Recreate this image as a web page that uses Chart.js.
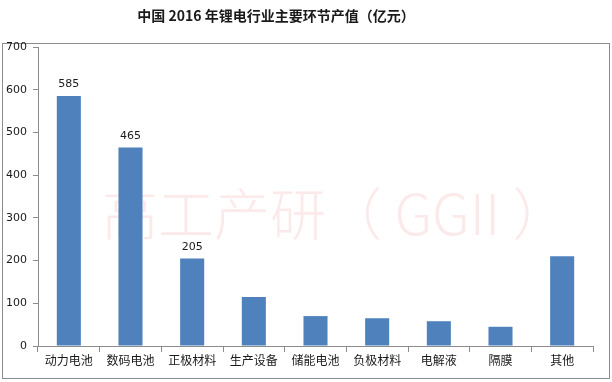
<!DOCTYPE html>
<html><head><meta charset="utf-8">
<script src="https://cdn.jsdelivr.net/npm/chart.js@4"></script>
<style>html,body{margin:0;padding:0;background:#fff}#wrap{width:612px;height:382px}</style>
</head><body><div id="wrap"><canvas id="c" width="612" height="382"></canvas></div>
<script>
const categories = ['动力电池','数码电池','正极材料','生产设备','储能电池','负极材料','电解液','隔膜','其他'];
const values = [585, 465, 205, 115, 70, 65, 58, 45, 210];
const shownLabels = [585, 465, 205, null, null, null, null, null, null];
const yTicks = [0, 100, 200, 300, 400, 500, 600, 700];
const titleText = '中国 2016 年锂电行业主要环节产值（亿元）';
const watermark = '高工产研（ GGII ）';

const deco = {
  id: 'deco',
  beforeDraw(chart) {
    const ctx = chart.ctx;
    ctx.save();
    ctx.fillStyle = '#fff';
    ctx.fillRect(0, 0, chart.width, chart.height);
    ctx.strokeStyle = '#8c8c8c';
    ctx.lineWidth = 1;
    ctx.strokeRect(2.5, 43.5, 607, 335);
    ctx.fillStyle = '#1a1a1a';
    ctx.font = 'bold 14px "Noto Sans CJK SC"';
    ctx.textAlign = 'center';
    ctx.textBaseline = 'middle';
    ctx.fillText(titleText, 276, 16);
    ctx.restore();
  },
  beforeDatasetsDraw(chart) {
    const ctx = chart.ctx;
    ctx.save();
    ctx.fillStyle = 'rgba(235,120,120,0.16)';
    ctx.font = '300 56px "Noto Sans CJK SC"';
    ctx.textAlign = 'left';
    ctx.textBaseline = 'middle';
    ctx.fillText(watermark, 102, 214);
    ctx.restore();
  },
  afterDatasetsDraw(chart) {
    const ctx = chart.ctx;
    const meta = chart.getDatasetMeta(0);
    ctx.save();
    ctx.fillStyle = '#1a1a1a';
    ctx.font = '11px "DejaVu Sans"';
    ctx.textAlign = 'center';
    ctx.textBaseline = 'bottom';
    meta.data.forEach((bar, i) => {
      if (shownLabels[i] != null) ctx.fillText(String(shownLabels[i]), bar.x, bar.y - 6);
    });
    ctx.restore();
  }
};

new Chart(document.getElementById('c'), {
  type: 'bar',
  data: { labels: categories, datasets: [{ data: values, backgroundColor: '#4f81bd', categoryPercentage: 0.39, barPercentage: 1.0 }] },
  options: {
    responsive: false, animation: false,
    layout: { padding: { top: 47, right: 19, left: 0, bottom: 0 } },
    plugins: { legend: { display: false }, tooltip: { enabled: false }, title: { display: false } },
    scales: {
      x: {
        afterFit(s) { s.height = 36; },
        grid: { offset: true, drawOnChartArea: false, drawTicks: true, tickLength: 6, color: '#8c8c8c' },
        border: { color: '#8c8c8c' },
        ticks: { padding: 1, color: '#1a1a1a', font: { family: '"Noto Sans CJK SC"', size: 12 } }
      },
      y: {
        min: 0, max: 700,
        afterFit(s) { s.width = 38; },
        afterBuildTicks(s) { s.ticks = yTicks.map(v => ({ value: v })); },
        grid: { drawOnChartArea: false, drawTicks: true, tickLength: 5, color: '#8c8c8c' },
        border: { color: '#8c8c8c' },
        ticks: { padding: 6, color: '#1a1a1a', font: { family: '"DejaVu Sans"', size: 11 } }
      }
    }
  },
  plugins: [deco]
});
</script></body></html>
